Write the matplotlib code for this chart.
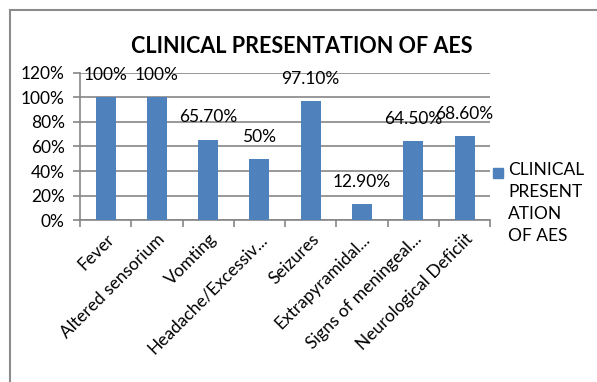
import matplotlib.pyplot as plt
from matplotlib.lines import Line2D

plt.rcParams['font.family'] = ['Lato', 'DejaVu Sans']

# chart data
categories = ['Fever', 'Altered sensorium', 'Vomting', 'Headache/Excessiv...',
              'Seizures', 'Extrapyramidal...', 'Signs of meningeal...',
              'Neurological Deficiit']
values = [100, 100, 65.7, 50, 97.1, 12.9, 64.5, 68.6]
value_labels = ['100%', '100%', '65.70%', '50%', '97.10%', '12.90%', '64.50%', '68.60%']
yticks = [0, 20, 40, 60, 80, 100, 120]
series_name = 'CLINICAL\nPRESENT\nATION\nOF AES'

bar_color = '#4F81BD'
grid_color = '#868686'

fig = plt.figure(figsize=(5.97, 3.82), dpi=100)
ax = fig.add_axes([0.134, 0.424, 0.687, 0.385])

x = range(len(categories))
ax.bar(x, values, width=0.39, color=bar_color, zorder=3)

# data labels above bars
for xi, v, lab in zip(x, values, value_labels):
    ax.annotate(lab, (xi, v), xytext=(0, 16), textcoords='offset points',
                ha='center', va='center', fontsize=12.5, zorder=4)

ax.set_xlim(-0.5, len(categories) - 0.5)
ax.set_ylim(0, 120)
ax.set_yticks(yticks)
ax.set_yticklabels([f'{t}%' for t in yticks], fontsize=12.5)
ax.yaxis.grid(True, color=grid_color, linewidth=1.2, zorder=0)

# category labels rotated, ticks on category boundaries
ax.set_xticks([i + 0.5 for i in x[:-1]] + [-0.5, len(categories) - 0.5], minor=True)
ax.set_xticks(list(x))
ax.set_xticklabels(categories, rotation=45, ha='right', rotation_mode='anchor',
                   fontsize=12.5)
ax.tick_params(axis='x', which='major', length=0, pad=8)
ax.tick_params(axis='x', which='minor', length=5, color=grid_color, width=1.2)
ax.tick_params(axis='y', length=5, color=grid_color, width=1.2, pad=6)

for side in ['top', 'right']:
    ax.spines[side].set_visible(False)
for side in ['left', 'bottom']:
    ax.spines[side].set_color(grid_color)
    ax.spines[side].set_linewidth(1.2)

fig.text(0.506, 0.877, 'CLINICAL PRESENTATION OF AES', ha='center', va='center',
         fontsize=15.5, fontweight='bold')

# legend
fig.patches.append(plt.Rectangle((493 / 597, 1 - 178 / 382), 10 / 597, 10 / 382,
                                 transform=fig.transFigure, color=bar_color))
fig.text(508 / 597, 1 - 162 / 382, series_name, ha='left', va='top',
         fontsize=12.5, linespacing=1.45)

# chart border
fig.add_artist(Line2D([10 / 597, 1], [1 - 10 / 382, 1 - 10 / 382],
                      transform=fig.transFigure, color='#8c8c8c', linewidth=1.5))
fig.add_artist(Line2D([10 / 597, 10 / 597], [0, 1 - 10 / 382],
                      transform=fig.transFigure, color='#8c8c8c', linewidth=1.5))

fig.savefig('out.png', dpi=100)
